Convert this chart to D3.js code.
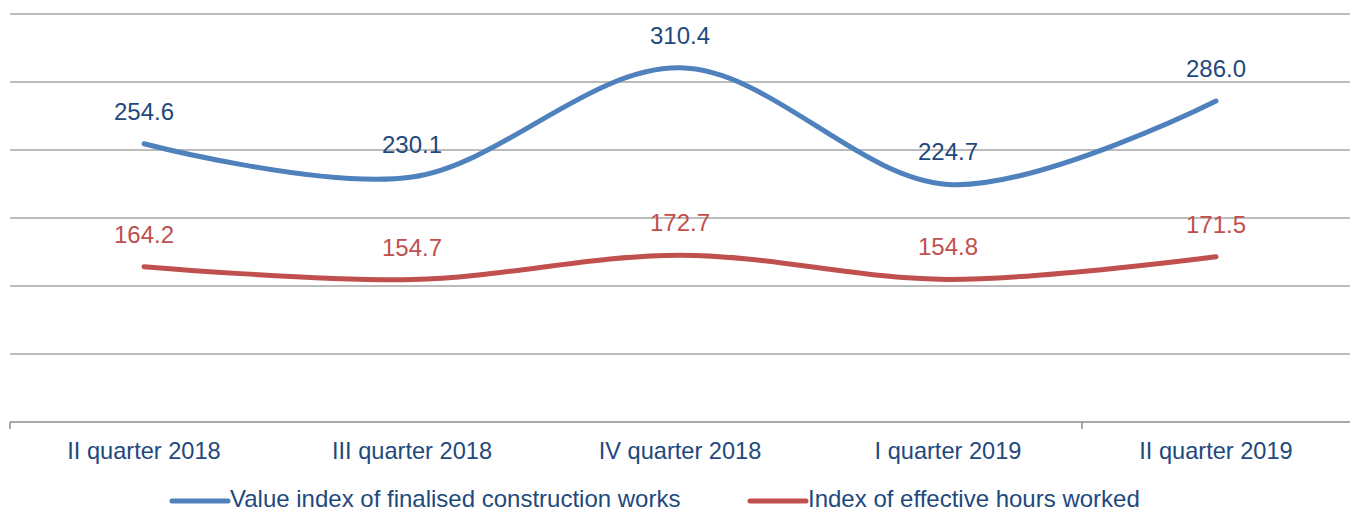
<!DOCTYPE html>
<html>
<head>
<meta charset="utf-8">
<script src="https://cdn.jsdelivr.net/npm/d3@7"></script>
<style>
  html, body { margin: 0; padding: 0; background: #fff; }
  svg { display: block; font-family: "Liberation Sans", Arial, sans-serif; }
</style>
</head>
<body>
<svg id="chart" width="1354" height="512"></svg>
<script>
const categories = ["II quarter 2018", "III quarter 2018", "IV quarter 2018", "I quarter 2019", "II quarter 2019"];
const valueIndex = [254.6, 230.1, 310.4, 224.7, 286.0];
const hoursIndex = [164.2, 154.7, 172.7, 154.8, 171.5];
const seriesNames = ["Value index of finalised construction works", "Index of effective hours worked"];
const gridTicks = [100, 150, 200, 250, 300, 350];

const svg = d3.select("#chart");
const x = d3.scaleBand().domain(categories).range([10, 1350]);
const y = d3.scaleLinear().domain([50, 350]).range([422, 14]);

// gridlines
svg.append("g").selectAll("line").data(gridTicks).join("line")
  .attr("x1", 10).attr("x2", 1350)
  .attr("y1", d => y(d)).attr("y2", d => y(d))
  .attr("stroke", "#a6a6a6").attr("stroke-width", 1.5);

// x axis
const axisG = svg.append("g");
axisG.append("line").attr("x1", 10).attr("x2", 1350)
  .attr("y1", y(50)).attr("y2", y(50))
  .attr("stroke", "#8c8c8c").attr("stroke-width", 1.5);
const tickIdx = [0, 4];
axisG.selectAll("line.tick").data(tickIdx).join("line").attr("class", "tick")
  .attr("x1", i => x(categories[i])).attr("x2", i => x(categories[i]))
  .attr("y1", y(50)).attr("y2", y(50) + 7)
  .attr("stroke", "#8c8c8c").attr("stroke-width", 1.5);
axisG.selectAll("text").data(categories).join("text")
  .attr("x", d => x(d) + x.bandwidth() / 2)
  .attr("y", 459)
  .attr("text-anchor", "middle")
  .attr("font-size", 23.6)
  .attr("fill", "#1f497d")
  .text(d => d);

const series = [
  { name: seriesNames[0], values: valueIndex, color: "#4f81bd", label: "#1f497d" },
  { name: seriesNames[1], values: hoursIndex, color: "#c0504d", label: "#c0504d" }
];

const line = d3.line()
  .x((d, i) => x(categories[i]) + x.bandwidth() / 2)
  .y(d => y(d))
  .curve(d3.curveCardinal.tension(0));

series.forEach(s => {
  svg.append("path").datum(s.values)
    .attr("d", line)
    .attr("fill", "none")
    .attr("stroke", s.color)
    .attr("stroke-width", 5)
    .attr("stroke-linecap", "round");
  svg.append("g").selectAll("text").data(s.values).join("text")
    .attr("x", (d, i) => x(categories[i]) + x.bandwidth() / 2)
    .attr("y", d => y(d) - 24)
    .attr("text-anchor", "middle")
    .attr("font-size", 24)
    .attr("fill", s.label)
    .text(d => d.toFixed(1));
});

// legend
const legendPos = [172, 750];
const lg = svg.append("g");
series.forEach((s, i) => {
  const gx = legendPos[i];
  lg.append("line").attr("x1", gx).attr("x2", gx + 56)
    .attr("y1", 501).attr("y2", 501)
    .attr("stroke", s.color).attr("stroke-width", 5).attr("stroke-linecap", "round");
  lg.append("text").attr("x", gx + 58).attr("y", 507)
    .attr("font-size", 24).attr("fill", "#1f497d")
    .text(s.name);
});
</script>
</body>
</html>
